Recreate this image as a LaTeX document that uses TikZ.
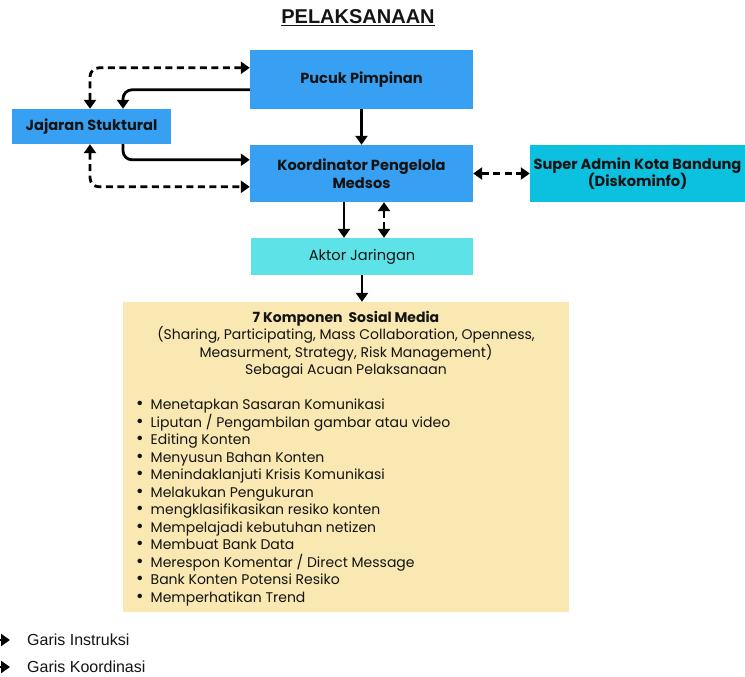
\documentclass[tikz,border=0pt]{standalone}
\usepackage{fontspec}
\setmainfont{Poppins}
\newfontfamily\arialfont{Liberation Sans}
\usetikzlibrary{arrows.meta}
\definecolor{boxblue}{RGB}{56,160,242}
\definecolor{boxcyan}{RGB}{12,192,223}
\definecolor{boxaqua}{RGB}{93,226,231}
\definecolor{boxyellow}{RGB}{249,232,177}
\definecolor{ink}{RGB}{20,20,20}
\begin{document}
\begin{tikzpicture}[x=1pt,y=-1pt,
  tip/.tip={Triangle[length=9pt,width=12pt]},
  conn/.style={line width=2.8pt,draw=black,-tip},
  conndash/.style={line width=2.8pt,draw=black,dash pattern=on 7pt off 4.5pt,tip-tip},
  unit/.style={rectangle,inner sep=0pt,text=ink,align=center,font=\bfseries\fontsize{14.6}{17.5}\selectfont},
  body/.style={text=ink,inner sep=0pt,font=\fontsize{14}{17.5}\selectfont},
]
\useasboundingbox (0,0) rectangle (745,677);
% title
\node[font=\arialfont\bfseries\fontsize{20}{24}\selectfont,text=ink] (title) at (358,18) {\underline{PELAKSANAAN}};
% boxes
\node[unit,fill=boxblue,minimum width=223pt,minimum height=59pt] (pucuk) at (361.5,79.5) {Pucuk Pimpinan};
\node[unit,fill=boxblue,minimum width=159pt,minimum height=35pt] (jajaran) at (91.5,126.5) {Jajaran Stuktural};
\node[unit,fill=boxblue,minimum width=223pt,minimum height=57pt] (koord) at (361.5,173.5) {Koordinator Pengelola\\Medsos};
\node[unit,fill=boxcyan,minimum width=215pt,minimum height=57pt] (super) at (637.5,173.5) {Super Admin Kota Bandung\\(Diskominfo)};
\node[unit,fill=boxaqua,minimum width=222pt,minimum height=37pt,font=\fontsize{14.6}{17.5}\selectfont] (aktor) at (362,256.5) {Aktor Jaringan};
\node[rectangle,fill=boxyellow,minimum width=446pt,minimum height=310pt] (yellow) at (346,457) {};
% yellow content
\node[body,align=center,anchor=north] (head) at (346,311)
 {\textbf{7 Komponen\ \ Sosial Media}\\(Sharing, Participating, Mass Collaboration, Openness,\\Measurment, Strategy, Risk Management)\\Sebagai Acuan Pelaksanaan};
\node[body,align=left,anchor=north west] (list) at (136,399)
 {\scalebox{1.3}{\textbullet}\hspace{7pt}Menetapkan Sasaran Komunikasi\\
  \scalebox{1.3}{\textbullet}\hspace{7pt}Liputan / Pengambilan gambar atau video\\
  \scalebox{1.3}{\textbullet}\hspace{7pt}Editing Konten\\
  \scalebox{1.3}{\textbullet}\hspace{7pt}Menyusun Bahan Konten\\
  \scalebox{1.3}{\textbullet}\hspace{7pt}Menindaklanjuti Krisis Komunikasi\\
  \scalebox{1.3}{\textbullet}\hspace{7pt}Melakukan Pengukuran\\
  \scalebox{1.3}{\textbullet}\hspace{7pt}mengklasifikasikan resiko konten\\
  \scalebox{1.3}{\textbullet}\hspace{7pt}Mempelajadi kebutuhan netizen\\
  \scalebox{1.3}{\textbullet}\hspace{7pt}Membuat Bank Data\\
  \scalebox{1.3}{\textbullet}\hspace{7pt}Merespon Komentar / Direct Message\\
  \scalebox{1.3}{\textbullet}\hspace{7pt}Bank Konten Potensi Resiko\\
  \scalebox{1.3}{\textbullet}\hspace{7pt}Memperhatikan Trend};
% connectors
\draw[conndash,rounded corners=9pt] ([yshift=-18pt]pucuk.north west) -| ([xshift=-1.5pt]jajaran.north);
\draw[conn,rounded corners=9pt] ([yshift=-40pt]pucuk.north west) -| ([xshift=31.5pt]jajaran.north);
\draw[conn,rounded corners=9pt] ([xshift=31.5pt]jajaran.south) |- ([yshift=-15pt]koord.north west);
\draw[conndash,rounded corners=9pt] ([xshift=-1.5pt]jajaran.south) |- ([yshift=-42pt]koord.north west);
\draw[conn] (pucuk.south) -- (koord.north);
\draw[conndash] (koord.east) -- (super.west);
\draw[conn] ([xshift=-17.5pt]koord.south) -- ([xshift=-17.5pt]koord.south |- aktor.north);
\draw[conndash] ([xshift=22.5pt]koord.south) -- ([xshift=22.5pt]koord.south |- aktor.north);
\draw[conn] (aktor.south) -- (aktor.south |- yellow.north);
% legend
\coordinate (la1) at (-12,640);
\coordinate (la2) at (10,640);
\coordinate (lb1) at (-12,667);
\coordinate (lb2) at (10,667);
\draw[conn] (la1) -- (la2);
\draw[conn] (lb1) -- (lb2);
\node[anchor=west,font=\arialfont\fontsize{16}{19}\selectfont,text=ink,inner sep=0pt] (lega) at (27,640) {Garis Instruksi};
\node[anchor=west,font=\arialfont\fontsize{16}{19}\selectfont,text=ink,inner sep=0pt] (legb) at (27,667) {Garis Koordinasi};
\end{tikzpicture}
\end{document}
